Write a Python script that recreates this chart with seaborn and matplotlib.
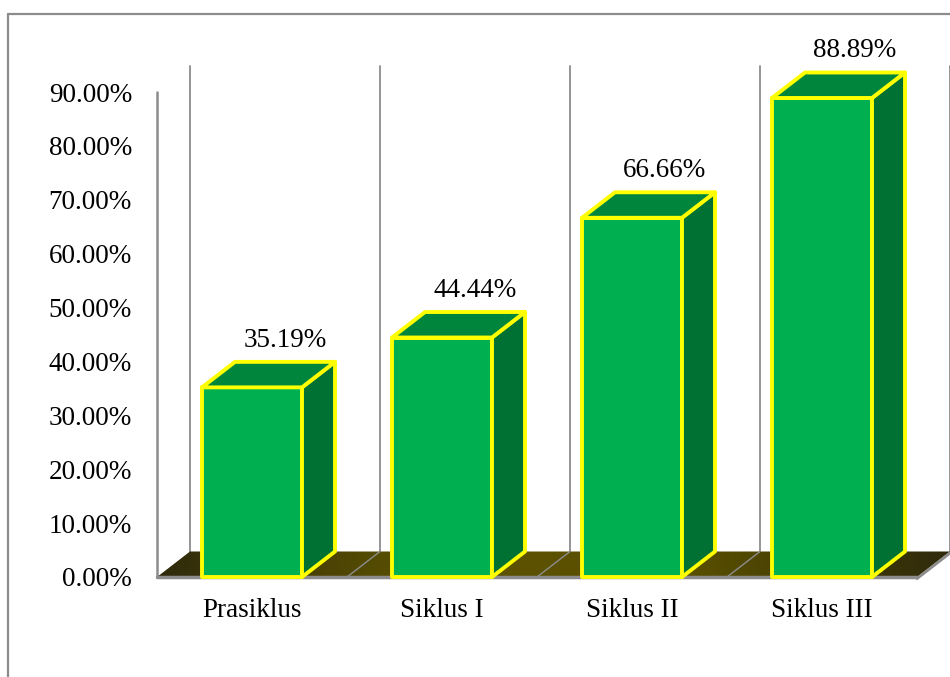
import matplotlib
matplotlib.use("Agg")
import matplotlib.pyplot as plt
from matplotlib.patches import Polygon, Rectangle
from matplotlib.lines import Line2D
from matplotlib.colors import LinearSegmentedColormap
import numpy as np
import seaborn as sns

categories = ["Prasiklus", "Siklus I", "Siklus II", "Siklus III"]
values = [0.3519, 0.4444, 0.6666, 0.8889]
value_labels = ["35.19%", "44.44%", "66.66%", "88.89%"]
y_ticks = [0.0, 0.1, 0.2, 0.3, 0.4, 0.5, 0.6, 0.7, 0.8, 0.9]
y_tick_labels = ["0.00%", "10.00%", "20.00%", "30.00%", "40.00%", "50.00%",
                 "60.00%", "70.00%", "80.00%", "90.00%"]

sns.set_style("white")
plt.rcParams['font.family'] = ['Liberation Serif', 'DejaVu Serif']

W, H = 950, 677
fig = plt.figure(figsize=(W / 100, H / 100), dpi=100)

# axes geometry (pixels)
x_left_px, x_right_px = 157, 950
y_zero_px, y_top_px = 577, 60
cat_px = 190.0
yscale = 485 / 0.9
ax = fig.add_axes([x_left_px / W, (H - y_zero_px) / H,
                   (x_right_px - x_left_px) / W, (y_zero_px - y_top_px) / H])

dx = 33 / cat_px
dy = 25.5 / yscale
n = len(categories)
top_wall = 0.9 + dy
fs = 19.5

# bars (front faces)
front_color = "#00b050"
top_color = "#00853c"
side_color = "#007033"
edge = "#ffff00"
bar_w = 100 / cat_px
elw = 2.8
sns.barplot(x=categories, y=values, width=bar_w, color=front_color,
            saturation=1, edgecolor=edge, linewidth=elw, ax=ax, zorder=3)
bars = [p for p in ax.patches if isinstance(p, Rectangle)]

# back wall vertical lines
for i in range(n + 1):
    xb = -0.5 + i + dx
    ax.plot([xb, xb], [dy, top_wall], color="#8c8c8c", lw=1.3, zorder=1,
            clip_on=False)
# y axis line
ax.plot([-0.5, -0.5], [0, 0.9], color="#8c8c8c", lw=1.8, zorder=1, clip_on=False)

# floor with gradient
floor_xy = [(-0.5, 0), (-0.5 + n, 0), (-0.5 + n + dx, dy), (-0.5 + dx, dy)]
floor = Polygon(floor_xy, closed=True, facecolor="none", edgecolor="none", zorder=2)
ax.add_patch(floor)
cmap = LinearSegmentedColormap.from_list("floor", ["#2f2a0c", "#5c5200", "#5a5000", "#2f2a0c"])
grad = np.linspace(0, 1, 256).reshape(1, -1)
im = ax.imshow(grad, cmap=cmap, aspect="auto",
               extent=(-0.5, -0.5 + n + dx, 0, dy), zorder=2, origin="lower")
im.set_clip_path(floor)
ax.set_xlim(-0.5, -0.5 + (x_right_px - x_left_px) / cat_px)
ax.set_ylim(0, (y_zero_px - y_top_px) / yscale)
# floor separators
for i in range(1, n):
    ax.plot([-0.5 + i, -0.5 + i + dx], [0, dy], color="#8c8c8c", lw=1.0, zorder=2.5)
ax.plot([-0.5, -0.5 + n], [0, 0], color="#8c8c8c", lw=2.5, zorder=2.5, clip_on=False)
ax.plot([-0.5 + n, -0.5 + n + dx], [-0.003, dy - 0.003], color="#8c8c8c", lw=2.0,
        zorder=2.4, clip_on=False)

for p, lab in zip(bars, value_labels):
    x0 = p.get_x()
    w = p.get_width()
    h = p.get_height()
    p.set_joinstyle("round")
    p.set_clip_on(False)
    top = Polygon([(x0, h), (x0 + w, h), (x0 + w + dx, h + dy), (x0 + dx, h + dy)],
                  closed=True, facecolor=top_color, edgecolor=edge, lw=elw,
                  joinstyle="round", zorder=3, clip_on=False)
    side = Polygon([(x0 + w, 0), (x0 + w + dx, dy), (x0 + w + dx, h + dy), (x0 + w, h)],
                   closed=True, facecolor=side_color, edgecolor=edge, lw=elw,
                   joinstyle="round", zorder=3, clip_on=False)
    ax.add_patch(side)
    ax.add_patch(top)
    ax.annotate(lab, xy=(x0 + w / 2, h), xytext=(33, 47),
                textcoords="offset pixels", ha="center", va="center",
                fontsize=fs, color="black", zorder=5, annotation_clip=False)

ax.set_yticks(y_ticks)
ax.set_yticklabels(y_tick_labels)
ax.tick_params(axis="y", length=0, pad=18, labelsize=fs, colors="black")
ax.tick_params(axis="x", length=0, pad=15, labelsize=fs, colors="black")
ax.set_xlabel("")
ax.set_ylabel("")
for s in ax.spines.values():
    s.set_visible(False)
ax.set_facecolor("none")

# outer frame
fig.add_artist(Line2D([8 / W, 8 / W], [0, 1 - 14 / H], color="#8c8c8c", lw=1.6,
                      transform=fig.transFigure))
fig.add_artist(Line2D([8 / W, 1], [1 - 14 / H, 1 - 14 / H], color="#8c8c8c", lw=1.6,
                      transform=fig.transFigure))

fig.savefig("out.png", dpi=100)
